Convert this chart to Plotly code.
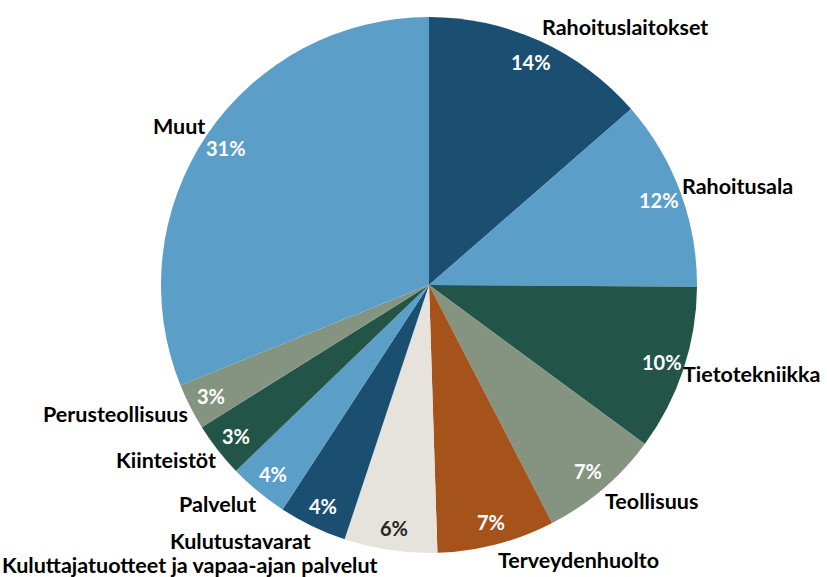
import math
import plotly.graph_objects as go

labels = ["Rahoituslaitokset", "Rahoitusala", "Tietotekniikka", "Teollisuus",
          "Terveydenhuolto", "Kuluttajatuotteet ja vapaa-ajan palvelut",
          "Kulutustavarat", "Palvelut", "Kiinteistöt", "Perusteollisuus", "Muut"]
values = [13.6, 11.5, 10.0, 7.3, 7.1, 5.6, 4.1, 3.6, 3.3, 2.8, 31.1]
colors = ["#1b4f72", "#5b9ec7", "#225448", "#849480", "#a5521b", "#e6e2dc",
          "#1b4f72", "#5b9ec7", "#225448", "#849480", "#5b9ec7"]
pct_colors = ["white", "white", "white", "white", "white", "#262626",
              "white", "white", "white", "white", "white"]

W, H = 827, 577
CX, CY, R = 429, 285, 268
FONT = "Lato, 'Open Sans', sans-serif"
FS_NAME = 21.5
FS_PCT = 20

fig = go.Figure(go.Pie(
    labels=labels, values=values, sort=False, direction="clockwise", rotation=0,
    marker=dict(colors=colors, line=dict(width=0)),
    textinfo="none", hoverinfo="label+percent",
    domain=dict(x=[(CX - R) / W, (CX + R) / W], y=[1 - (CY + R) / H, 1 - (CY - R) / H]),
    showlegend=False,
))

total = sum(values)
cum = 0.0
annotations = []
for lab, v, pc in zip(labels, values, pct_colors):
    mid = (cum + v / 2) / total * 2 * math.pi
    cum += v
    s, c = math.sin(mid), math.cos(mid)
    # percentage inside near the outer edge
    rp = 0.915 * R
    px, py = CX + rp * s, CY - rp * c
    annotations.append(dict(x=px / W, y=1 - py / H, xref="paper", yref="paper",
                            text=f"{round(v / total * 100)}%", showarrow=False,
                            font=dict(family=FONT, size=FS_PCT, color=pc, weight="bold"),
                            xanchor="center", yanchor="middle"))
    # category name just outside the edge, kept inside the figure
    ex, ey = CX + R * s, CY - R * c
    ly = min(max(ey - 16 * c, 14), H - 12)
    est_w = len(lab) * 0.5 * FS_NAME
    if s >= 0:
        if ex + est_w > W - 4:
            anchor, lx = "right", W - 4
        else:
            anchor, lx = "left", ex
    else:
        if ex - est_w < 0:
            anchor, lx = "left", 0
        else:
            anchor, lx = "right", ex
    annotations.append(dict(x=lx / W, y=1 - ly / H, xref="paper", yref="paper",
                            text=lab, showarrow=False,
                            font=dict(family=FONT, size=FS_NAME, color="black", weight="bold"),
                            xanchor=anchor, yanchor="middle"))

fig.update_layout(width=W, height=H, margin=dict(l=0, r=0, t=0, b=0),
                  paper_bgcolor="white", plot_bgcolor="white",
                  annotations=annotations)
fig.write_html("out.html", config={"displayModeBar": False},
               post_script="document.body.style.margin='0';document.body.style.overflow='hidden';")
